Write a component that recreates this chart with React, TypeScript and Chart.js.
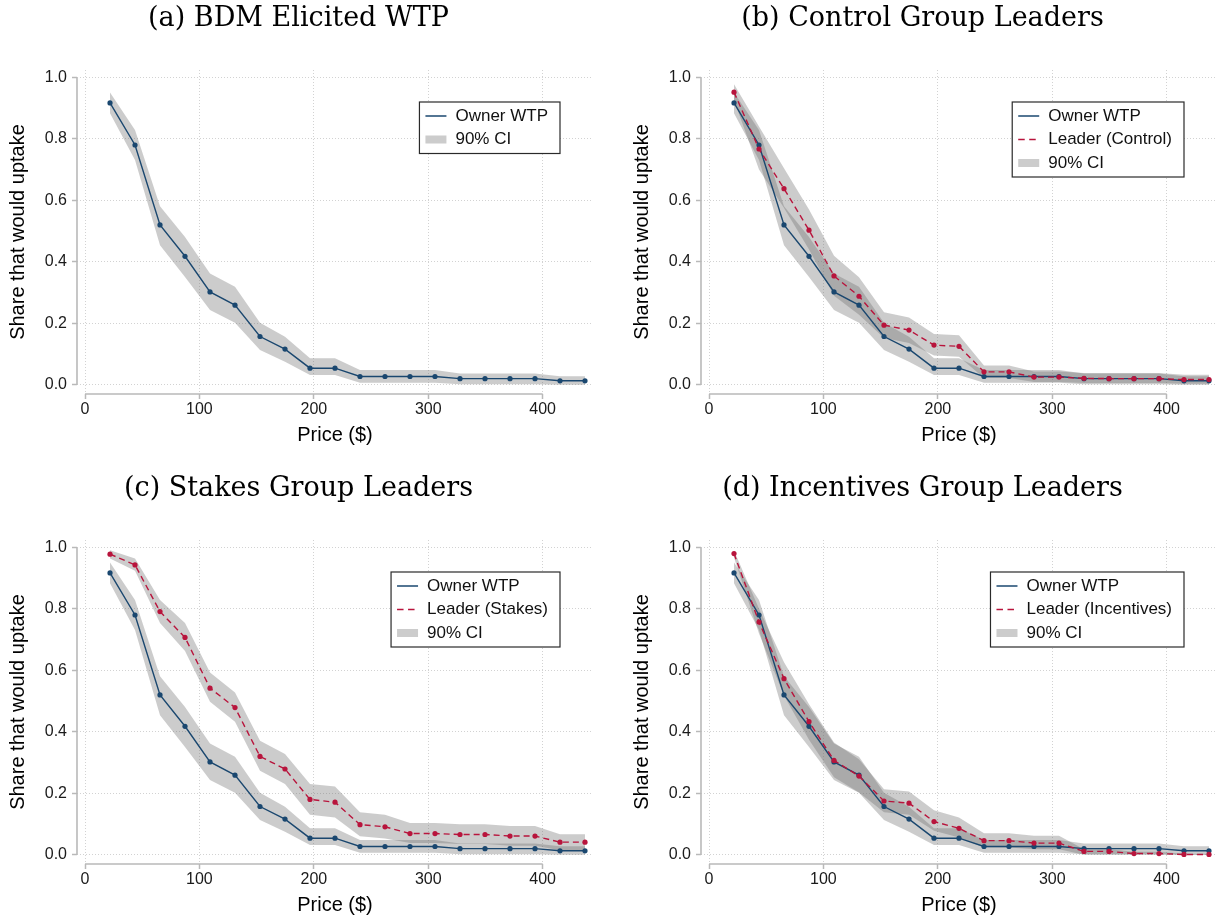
import React, { useEffect, useRef } from "react";
import { Chart, registerables } from "chart.js";

Chart.register(...registerables);

// ---------------- data ----------------
const PRICE = [21.85, 43.7, 65.55, 87.4, 109.25, 131.1, 152.95, 174.8, 196.65, 218.5, 240.35, 262.2, 284.05, 305.9, 327.75, 349.6, 371.45, 393.3, 415.15, 437.0];

const OWNER = [0.917, 0.780, 0.520, 0.418, 0.302, 0.259, 0.157, 0.116, 0.054, 0.054, 0.027, 0.027, 0.027, 0.027, 0.020, 0.020, 0.020, 0.020, 0.013, 0.013];
const OWNER_HI = [0.951, 0.829, 0.581, 0.481, 0.362, 0.319, 0.202, 0.156, 0.086, 0.086, 0.048, 0.048, 0.048, 0.048, 0.037, 0.037, 0.037, 0.037, 0.028, 0.028];
const OWNER_LO = [0.883, 0.731, 0.454, 0.351, 0.243, 0.202, 0.113, 0.075, 0.032, 0.032, 0.007, 0.007, 0.007, 0.007, 0.002, 0.002, 0.002, 0.002, 0.0, 0.0];

const CONTROL = [0.952, 0.767, 0.638, 0.503, 0.354, 0.288, 0.194, 0.178, 0.129, 0.125, 0.042, 0.042, 0.025, 0.025, 0.021, 0.020, 0.020, 0.020, 0.017, 0.017];
const CONTROL_HI = [0.978, 0.840, 0.704, 0.570, 0.420, 0.350, 0.236, 0.219, 0.165, 0.161, 0.063, 0.063, 0.043, 0.043, 0.038, 0.038, 0.038, 0.038, 0.033, 0.033];
const CONTROL_LO = [0.926, 0.700, 0.575, 0.440, 0.290, 0.228, 0.152, 0.136, 0.095, 0.091, 0.022, 0.022, 0.009, 0.009, 0.006, 0.006, 0.006, 0.006, 0.003, 0.003];

const STAKES = [0.978, 0.943, 0.791, 0.707, 0.542, 0.479, 0.320, 0.279, 0.180, 0.171, 0.098, 0.091, 0.069, 0.069, 0.066, 0.066, 0.061, 0.061, 0.041, 0.041];
const STAKES_HI = [0.991, 0.964, 0.829, 0.754, 0.593, 0.528, 0.371, 0.328, 0.230, 0.222, 0.138, 0.130, 0.103, 0.103, 0.099, 0.099, 0.094, 0.094, 0.067, 0.067];
const STAKES_LO = [0.964, 0.924, 0.754, 0.663, 0.498, 0.433, 0.273, 0.230, 0.130, 0.121, 0.060, 0.053, 0.038, 0.038, 0.035, 0.035, 0.029, 0.029, 0.015, 0.015];

const INCENT = [0.980, 0.757, 0.573, 0.433, 0.307, 0.256, 0.175, 0.168, 0.108, 0.086, 0.046, 0.046, 0.038, 0.038, 0.011, 0.011, 0.004, 0.004, 0.001, 0.001];
const INCENT_HI = [0.990, 0.800, 0.626, 0.490, 0.365, 0.311, 0.213, 0.206, 0.145, 0.121, 0.070, 0.070, 0.062, 0.062, 0.018, 0.018, 0.010, 0.010, 0.003, 0.003];
const INCENT_LO = [0.967, 0.720, 0.517, 0.374, 0.252, 0.203, 0.138, 0.130, 0.078, 0.056, 0.024, 0.024, 0.018, 0.018, 0.0, 0.0, 0.0, 0.0, 0.0, 0.0];

const TITLES = ["(a) BDM Elicited WTP", "(b) Control Group Leaders", "(c) Stakes Group Leaders", "(d) Incentives Group Leaders"];
const OWNER_LABEL = "Owner WTP";
const LEADER_LABELS = ["Leader (Control)", "Leader (Stakes)", "Leader (Incentives)"];
const CI_LABEL = "90% CI";
const X_TITLE = "Price ($)";
const Y_TITLE = "Share that would uptake";
const X_TICKS = [0, 100, 200, 300, 400];
const Y_TICKS = [0, 0.2, 0.4, 0.6, 0.8, 1.0];

// ---------------- style ----------------
const NAVY = "#1a476f";
const RED = "#b8143c";
const BAND = "rgba(110,110,110,0.35)";
const SWATCH = "#cccccc";
const SANS = "'Liberation Sans', Arial, Helvetica, sans-serif";
const SERIF = "'DejaVu Serif', 'Liberation Serif', serif";
const DASH = [6, 4];

const toPts = (ys: number[]) => ys.map((y, i) => ({ x: PRICE[i], y }));

type Leader = { label: string; mid: number[]; lo: number[]; hi: number[] };

const boxLegend = {
  id: "boxLegend",
  afterDraw(chart: any, _args: any, opts: any) {
    const items = opts.items as any[];
    if (!items || !items.length) return;
    const { ctx, chartArea } = chart;
    ctx.save();
    ctx.font = `${opts.fontSize}px ${SANS}`;
    const textW = Math.max(...items.map((it) => ctx.measureText(it.label).width));
    const padL = 6, sw = 21, gap = 9, padR = 12, rowH = 23.5, padV = 14;
    const w = padL + sw + gap + textW + padR;
    const h = padV * 2 + rowH * (items.length - 1);
    const right = chartArea.right - opts.offsetRight;
    const top = chartArea.top + opts.offsetTop;
    const left = right - w;
    ctx.fillStyle = "#ffffff";
    ctx.fillRect(left, top, w, h);
    ctx.strokeStyle = "#2a2a2a";
    ctx.lineWidth = 1.2;
    ctx.strokeRect(left, top, w, h);
    items.forEach((it, i) => {
      const cy = top + padV + i * rowH;
      const sx = left + padL;
      if (it.kind === "box") {
        ctx.fillStyle = it.color;
        ctx.fillRect(sx, cy - 4, sw, 8);
      } else {
        ctx.strokeStyle = it.color;
        ctx.lineWidth = 1.5;
        ctx.setLineDash(it.dash || []);
        ctx.beginPath();
        ctx.moveTo(sx, cy);
        ctx.lineTo(sx + sw, cy);
        ctx.stroke();
        ctx.setLineDash([]);
      }
      ctx.fillStyle = "#111111";
      ctx.textBaseline = "middle";
      ctx.textAlign = "left";
      ctx.fillText(it.label, sx + sw + gap, cy);
    });
    ctx.restore();
  },
};

const axisLines = {
  id: "axisLines",
  beforeDatasetsDraw(chart: any, _args: any, opts: any) {
    const { ctx, chartArea, scales } = chart;
    const x = scales.x, y = scales.y;
    ctx.save();
    ctx.strokeStyle = opts.color;
    ctx.lineWidth = opts.width;
    ctx.beginPath();
    ctx.moveTo(chartArea.left, y.getPixelForValue(Y_TICKS[0]));
    ctx.lineTo(chartArea.left, y.getPixelForValue(Y_TICKS[Y_TICKS.length - 1]));
    ctx.moveTo(x.getPixelForValue(X_TICKS[0]), chartArea.bottom);
    ctx.lineTo(x.getPixelForValue(X_TICKS[X_TICKS.length - 1]), chartArea.bottom);
    ctx.stroke();
    ctx.restore();
  },
};

function Panel(props: { title: string; leader: Leader | null; left: number; top: number }) {
  const ref = useRef<HTMLCanvasElement | null>(null);
  useEffect(() => {
    const { title, leader } = props;
    const datasets: any[] = [];
    const lineStyle = (color: string, dash: number[]) => ({
      borderColor: color,
      backgroundColor: color,
      borderWidth: 1.4,
      borderDash: dash,
      pointRadius: 2.6,
      pointBackgroundColor: color,
      pointBorderWidth: 0,
      tension: 0,
      fill: false,
    });
    if (leader) datasets.push({ label: leader.label, data: toPts(leader.mid), ...lineStyle(RED, DASH) });
    datasets.push({ label: OWNER_LABEL, data: toPts(OWNER), ...lineStyle(NAVY, []) });
    const band = (hi: number[], lo: number[], name: string) => {
      datasets.push({ label: name + " hi", data: toPts(hi), borderWidth: 0, pointRadius: 0, fill: "+1", backgroundColor: BAND, tension: 0 });
      datasets.push({ label: name + " lo", data: toPts(lo), borderWidth: 0, pointRadius: 0, fill: false, tension: 0 });
    };
    band(OWNER_HI, OWNER_LO, "owner");
    if (leader) band(leader.hi, leader.lo, "leader");

    const legendItems: any[] = [{ label: OWNER_LABEL, kind: "line", color: NAVY, dash: [] }];
    if (leader) legendItems.push({ label: leader.label, kind: "line", color: RED, dash: [6.5, 4.5] });
    legendItems.push({ label: CI_LABEL, kind: "box", color: SWATCH });

    const chart = new Chart(ref.current as HTMLCanvasElement, {
      type: "line",
      data: { datasets },
      plugins: [boxLegend as any, axisLines as any],
      options: {
        responsive: false,
        animation: false,
        events: [],
        layout: { padding: 0 },
        plugins: {
          legend: { display: false },
          tooltip: { enabled: false },
          filler: { drawTime: "beforeDatasetsDraw" },
          title: {
            display: true,
            text: title,
            color: "#000000",
            font: { family: SERIF, size: 27, weight: "normal", lineHeight: 1.2 },
            padding: { top: 3, bottom: 34.6 },
          },
          boxLegend: { items: legendItems, fontSize: 17, offsetRight: 33, offsetTop: 32 },
          axisLines: { color: "#b9b9b9", width: 1.6 },
        } as any,
        scales: {
          x: {
            type: "linear",
            min: -7,
            max: 444,
            afterBuildTicks: (axis: any) => {
              axis.ticks = X_TICKS.map((v) => ({ value: v }));
            },
            afterFit: (scale: any) => {
              scale.height = 56;
            },
            ticks: {
              font: { family: SANS, size: 16 },
              color: "#1a1a1a",
              padding: 1,
              maxRotation: 0,
              callback: (v: any) => String(v),
            },
            grid: { color: "#d2d2d2", lineWidth: 1, tickLength: 5, tickColor: "#b9b9b9", tickWidth: 1.5, tickBorderDash: [] },
            border: { display: false, dash: [1, 2] },
            title: { display: true, text: X_TITLE, color: "#000000", font: { family: SANS, size: 20 }, padding: { top: 0, bottom: 3 } },
          },
          y: {
            type: "linear",
            min: -0.03,
            max: 1.024,
            afterBuildTicks: (axis: any) => {
              axis.ticks = Y_TICKS.map((v) => ({ value: v }));
            },
            afterFit: (scale: any) => {
              scale.width = 77;
            },
            ticks: {
              font: { family: SANS, size: 16 },
              color: "#1a1a1a",
              padding: 5,
              callback: (v: any) => Number(v).toFixed(1),
            },
            grid: { color: "#d2d2d2", lineWidth: 1, tickLength: 5, tickColor: "#b9b9b9", tickWidth: 1.5, tickBorderDash: [] },
            border: { display: false, dash: [1, 2] },
            title: { display: true, text: Y_TITLE, color: "#000000", font: { family: SANS, size: 20 }, padding: { top: 6, bottom: 0 } },
          },
        },
      } as any,
    });
    return () => chart.destroy();
  }, []);
  return (
    <canvas
      ref={ref}
      width={597}
      height={450}
      style={{ position: "absolute", left: props.left, top: props.top, width: 597, height: 450, display: "block" }}
    />
  );
}

export default function App() {
  const panels = [
    { title: TITLES[0], leader: null, left: 0, top: 0 },
    { title: TITLES[1], leader: { label: LEADER_LABELS[0], mid: CONTROL, lo: CONTROL_LO, hi: CONTROL_HI }, left: 624, top: 0 },
    { title: TITLES[2], leader: { label: LEADER_LABELS[1], mid: STAKES, lo: STAKES_LO, hi: STAKES_HI }, left: 0, top: 470 },
    { title: TITLES[3], leader: { label: LEADER_LABELS[2], mid: INCENT, lo: INCENT_LO, hi: INCENT_HI }, left: 624, top: 470 },
  ];
  return (
    <div style={{ position: "absolute", left: 0, top: 0, width: 1225, height: 921, background: "#ffffff", overflow: "hidden" }}>
      {panels.map((p, i) => (
        <Panel key={i} title={p.title} leader={p.leader} left={p.left} top={p.top} />
      ))}
    </div>
  );
}
